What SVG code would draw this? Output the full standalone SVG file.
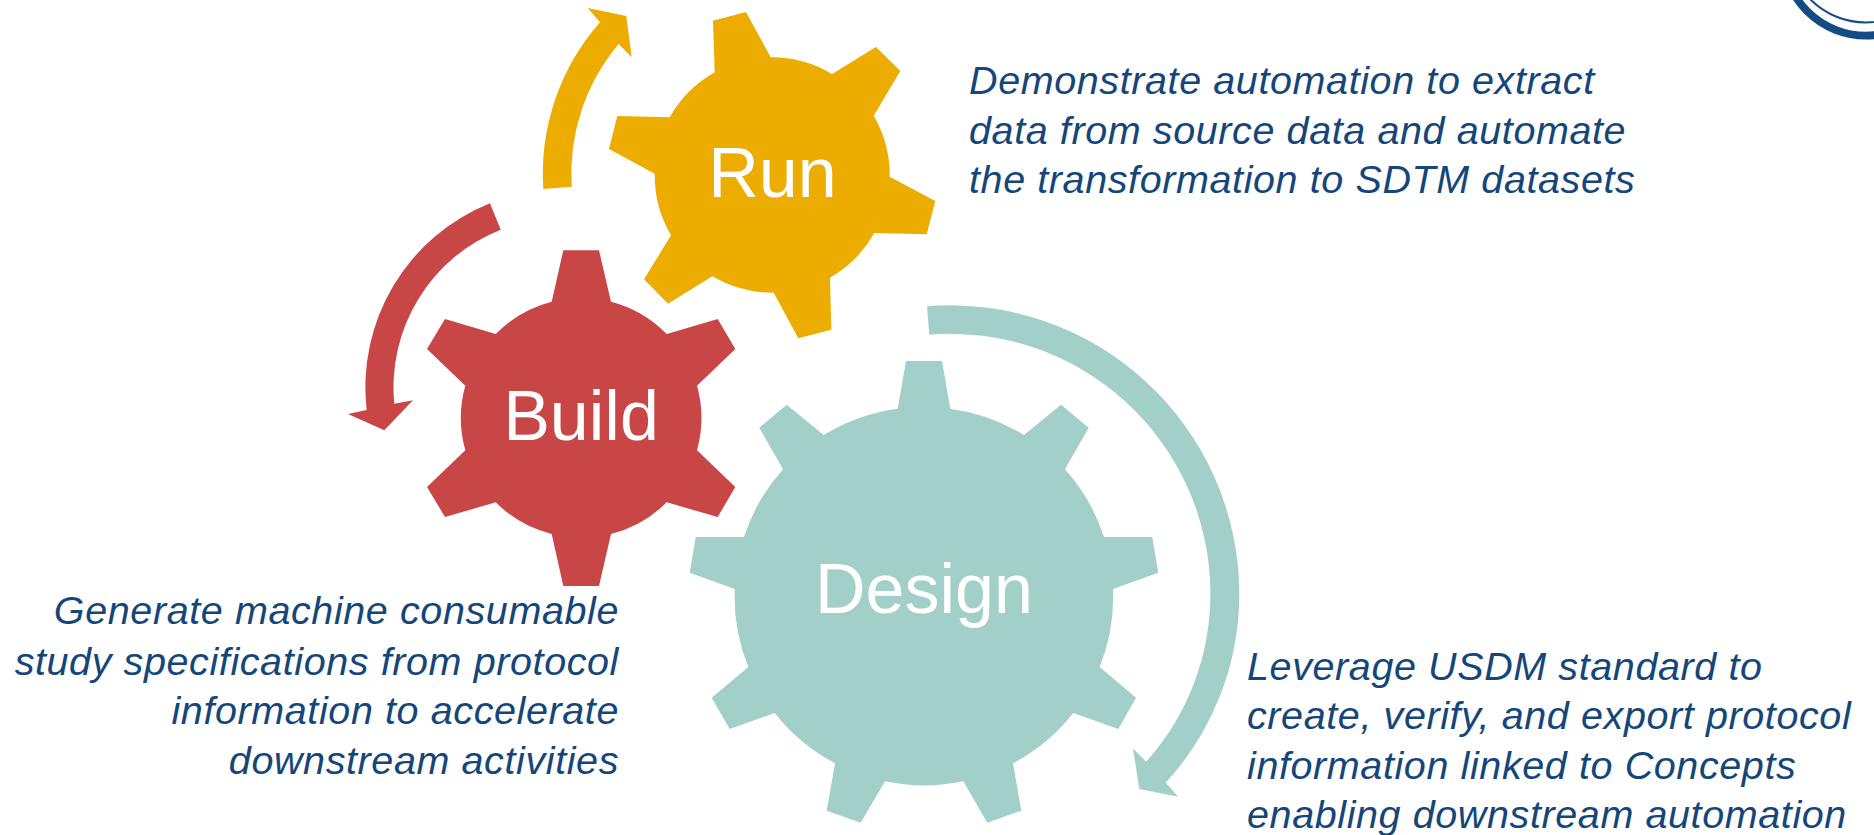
<svg xmlns="http://www.w3.org/2000/svg" width="1874" height="835" viewBox="0 0 1874 835">
<style>
.run{fill:#EDAC00}.build{fill:#C94646}.design{fill:#A3CFC9}
.label{font-family:"Liberation Sans",Arial,sans-serif;font-size:70px;fill:#fff;text-anchor:middle}
.desc{font-family:"Liberation Sans",Arial,sans-serif;font-size:39.5px;letter-spacing:.6px;font-style:italic;fill:#15467A}
.end{text-anchor:end}
.ring{fill:none;stroke:#134B84}
</style>
<rect width="1874" height="835" fill="#fff"/>
<g id="logo">
<circle class="ring" cx="1866" cy="-47.5" r="83.1" stroke-width="7.8"/>
<circle class="ring" cx="1866" cy="-56" r="78.5" stroke-width="2"/>
</g>
<g id="connectors">
<path class="run" d="M543.3,189A229.5,229.5 0 0 1 600,22.3L587.7,8L626.3,16L631.7,57.3L618.7,44A201.5,201.5 0 0 0 571.7,186.7Z"/>
<path class="build" d="M490,203.3A198,198 0 0 0 366.7,410L348,414L384.3,430.3L413,400.3L394.3,403.7A169.5,169.5 0 0 1 500.7,229.7Z"/>
<path class="design" d="M927,306.3A289,289 0 0 1 1239.3,592A279,279 0 0 1 1165.7,782.7L1178.3,796.7L1139.3,789L1133,748.3L1146,761.7A250.5,250.5 0 0 0 1210.4,592A260,260 0 0 0 929.3,334.7Z"/>
</g>
<g id="node-run">
<path class="run" d="M713,20.7L746,12L770.7,57.3A118,118 0 0 1 832,74L876,47L900.3,71L873.7,115.7A118,118 0 0 1 889.7,176.7L935.3,201L926.7,234.3L874.3,233A118,118 0 0 1 830,277.7L831.3,329.7L798.3,338.3L773.7,292.7A118,118 0 0 1 712.3,276.3L668,303.7L644,279.3L671,235.3A118,118 0 0 1 654.7,173.7L609,149L617.3,116L669.7,117.3A118,118 0 0 1 714.7,72.3Z"/>
<text class="label" x="772.5" y="196.7">Run</text>
</g>
<g id="node-build">
<path class="build" d="M563.3,250.3L599,250.3L611,301.7A120,120 0 0 1 666.7,334L717.7,319L735.3,349L697,385.7A120,120 0 0 1 697,450.3L735.3,487L717.7,517L666.7,502.3A120,120 0 0 1 611,534L599,586L563.3,586L551.7,534A120,120 0 0 1 495.7,502.3L445,517L427,487L465.3,450.3A120,120 0 0 1 465.3,385.7L427,349L445,319L495.7,334A120,120 0 0 1 551.7,301.7Z"/>
<text class="label" x="581" y="439.8">Build</text>
</g>
<g id="node-design">
<path class="design" d="M906,361L942,361L950.3,408.7A189,189 0 0 1 1024,435L1061,404.7L1088.7,427.7L1065,469.3A189,189 0 0 1 1104,537L1152.3,537L1158.3,572.7L1113,589A189,189 0 0 1 1099.7,667L1136,697.7L1118.3,729L1073.3,713A189,189 0 0 1 1013,763.3L1021.3,810.7L987.3,822.7L963.3,781.3A189,189 0 0 1 885,781.3L860.7,822.7L826.7,810.7L835,763.3A189,189 0 0 1 774.7,713L729.7,729L711.7,697.7L748.3,667A189,189 0 0 1 734.7,589L689.7,572.7L695.7,537L744,537A189,189 0 0 1 783,469.3L759.3,427.7L786.7,404.7L823.7,435A189,189 0 0 1 897.7,408.7Z"/>
<text class="label" x="924" y="612.7">Design</text>
</g>
<g id="text-run">
<text class="desc" x="969" y="93.5">Demonstrate automation to extract</text>
<text class="desc" x="969" y="144">data from source data and automate</text>
<text class="desc" x="969" y="192.7">the transformation to SDTM datasets</text>
</g>
<g id="text-build">
<text class="desc end" x="619" y="624">Generate machine consumable</text>
<text class="desc end" x="619" y="674.5">study specifications from protocol</text>
<text class="desc end" x="619" y="723.5">information to accelerate</text>
<text class="desc end" x="619" y="773.5">downstream activities</text>
</g>
<g id="text-design">
<text class="desc" x="1247" y="680">Leverage USDM standard to</text>
<text class="desc" x="1247" y="729">create, verify, and export protocol</text>
<text class="desc" x="1247" y="778.5">information linked to Concepts</text>
<text class="desc" x="1247" y="827.5">enabling downstream automation</text>
</g>
</svg>
